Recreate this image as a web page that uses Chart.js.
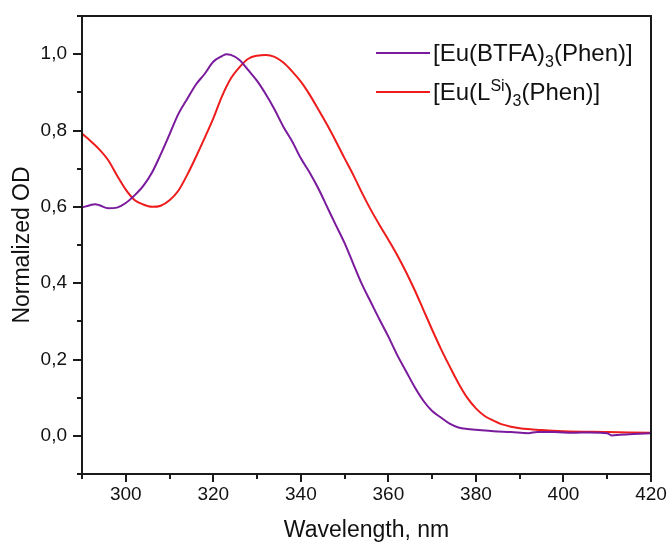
<!DOCTYPE html>
<html>
<head>
<meta charset="utf-8">
<script src="https://cdn.jsdelivr.net/npm/chart.js@4.4.1/dist/chart.umd.min.js"></script>
<style>
    html, body { margin: 0; padding: 0; background: #fff; }
    #wrap { position: relative; width: 671px; height: 549px; }
    #legend {
        position: absolute; left: 376px; top: 33px;
        font-family: "Liberation Sans", Arial, sans-serif; font-size: 24px; color: #111;
    }
    #legend .row { display: flex; align-items: center; height: 39px; }
    #legend .swatch { width: 54px; height: 2px; margin-right: 3px; }
    #legend sub, #legend sup { font-size: 16px; line-height: 0; }
</style>
</head>
<body>
<div id="wrap">
    <canvas id="chart" width="671" height="549"></canvas>
    <div id="legend">
        <div class="row"><span class="swatch" style="background:#7a1a9c"></span><span>[Eu(BTFA)<sub>3</sub>(Phen)]</span></div>
        <div class="row"><span class="swatch" style="background:#ee1c1c"></span><span>[Eu(L<sup>Si</sup>)<sub>3</sub>(Phen)]</span></div>
    </div>
</div>
<script>
// wavelength (nm) and normalized OD
const btfaNm = [290, 292, 293, 294, 296, 298, 300, 302, 304, 306, 308, 310, 312, 314, 316, 318, 320, 322, 323, 324,
    326, 328, 330, 332, 334, 336, 338, 340, 342, 344, 346, 348, 350, 352, 354, 356, 358, 360, 362, 364,
    366, 368, 370, 372, 374, 376, 378, 380, 384, 388, 392, 394, 398, 402, 406, 410, 411, 413, 416, 420];
const btfaOd = [0.598, 0.605, 0.607, 0.604, 0.596, 0.598, 0.610, 0.630, 0.655, 0.690, 0.738, 0.790, 0.843, 0.882, 0.920, 0.948, 0.980, 0.995, 1.000, 0.998,
    0.985, 0.958, 0.930, 0.895, 0.855, 0.810, 0.772, 0.727, 0.690, 0.648, 0.600, 0.552, 0.505, 0.450, 0.396, 0.350, 0.304, 0.260, 0.212, 0.170,
    0.128, 0.092, 0.065, 0.048, 0.032, 0.022, 0.018, 0.016, 0.012, 0.010, 0.007, 0.010, 0.010, 0.008, 0.009, 0.007, 0.001, 0.003, 0.005, 0.007];

const lsiNm = [290, 292, 294, 296, 298, 300, 302, 304, 306, 308, 310, 312, 314, 316, 318, 320, 322, 324, 326,
    328, 330, 332, 334, 336, 338, 340, 342, 344, 346, 348, 350, 352, 354, 356, 358, 360, 362, 364, 366,
    368, 370, 372, 374, 376, 378, 380, 382, 384, 386, 388, 390, 395, 400, 410, 420];
const lsiOd = [0.792, 0.772, 0.750, 0.722, 0.682, 0.645, 0.618, 0.606, 0.600, 0.603, 0.617, 0.642, 0.683, 0.730, 0.780, 0.832, 0.890, 0.936, 0.966,
    0.988, 0.996, 0.998, 0.993, 0.978, 0.955, 0.928, 0.894, 0.855, 0.815, 0.772, 0.727, 0.683, 0.636, 0.592, 0.552, 0.514, 0.474, 0.430, 0.382,
    0.330, 0.278, 0.228, 0.182, 0.138, 0.100, 0.072, 0.052, 0.040, 0.030, 0.024, 0.020, 0.015, 0.012, 0.010, 0.008];

const xLabels = [300, 320, 340, 360, 380, 400, 420];
const yLabels = [0, 0.2, 0.4, 0.6, 0.8, 1.0];

const toPoints = (xs, ys) => xs.map((x, i) => ({ x, y: ys[i] }));
const font = '"Liberation Sans", Arial, sans-serif';
const axisColor = '#1a1a1a';

// frame + outward tick marks (major where a label is shown)
const frameTicks = {
    id: 'frameTicks',
    afterDraw(chart) {
        const { ctx, chartArea: a, scales } = chart;
        ctx.save();
        ctx.strokeStyle = axisColor;
        ctx.lineWidth = 2;
        ctx.strokeRect(a.left, a.top, a.right - a.left, a.bottom - a.top);
        ctx.beginPath();
        scales.x.ticks.forEach((t) => {
            const px = Math.round(scales.x.getPixelForValue(t.value));
            const len = xLabels.includes(t.value) ? 8 : 5;
            ctx.moveTo(px, a.bottom);
            ctx.lineTo(px, a.bottom + len);
        });
        scales.y.ticks.forEach((t) => {
            const py = Math.round(scales.y.getPixelForValue(t.value));
            const major = yLabels.some((v) => Math.abs(v - t.value) < 1e-6);
            ctx.moveTo(a.left, py);
            ctx.lineTo(a.left - (major ? 9 : 5), py);
        });
        ctx.stroke();
        ctx.restore();
    },
};

const line = (label, data, color) => ({
    label, data, borderColor: color, borderWidth: 2, showLine: true, pointRadius: 0, cubicInterpolationMode: 'monotone',
});

new Chart(document.getElementById('chart'), {
    type: 'scatter',
    data: {
        datasets: [
            line('[Eu(BTFA)3(Phen)]', toPoints(btfaNm, btfaOd), '#7a1a9c'),
            line('[Eu(LSi)3(Phen)]', toPoints(lsiNm, lsiOd), '#ee1c1c'),
        ],
    },
    options: {
        responsive: false,
        animation: false,
        layout: { padding: { top: 16, right: 20, left: 0, bottom: 0 } },
        plugins: { legend: { display: false }, tooltip: { enabled: false } },
        scales: {
            x: {
                type: 'linear', min: 290, max: 420,
                afterFit: (s) => { s.height = 75; s.paddingLeft = 0; s.paddingRight = 0; },
                grid: { display: false, drawTicks: false },
                border: { display: false },
                ticks: {
                    stepSize: 10, autoSkip: false, maxRotation: 0, padding: 9,
                    color: '#111', font: { family: font, size: 19 },
                    callback: (v) => (xLabels.includes(v) ? String(v) : ''),
                },
                title: { display: true, text: 'Wavelength, nm', color: '#111', font: { family: font, size: 23 }, padding: { top: 0, bottom: 5 } },
            },
            y: {
                min: -0.1, max: 1.1,
                afterFit: (s) => { s.width = 82; s.paddingTop = 0; s.paddingBottom = 0; },
                grid: { display: false, drawTicks: false },
                border: { display: false },
                ticks: {
                    stepSize: 0.1, autoSkip: false, padding: 15,
                    color: '#111', font: { family: font, size: 19 },
                    callback: (v) => (yLabels.some((l) => Math.abs(l - v) < 1e-6) ? v.toFixed(1).replace('.', ',') : ''),
                },
                title: { display: true, text: 'Normalized OD', color: '#111', font: { family: font, size: 23 }, padding: { top: 9, bottom: 0 } },
            },
        },
    },
    plugins: [frameTicks],
});
</script>
</body>
</html>
